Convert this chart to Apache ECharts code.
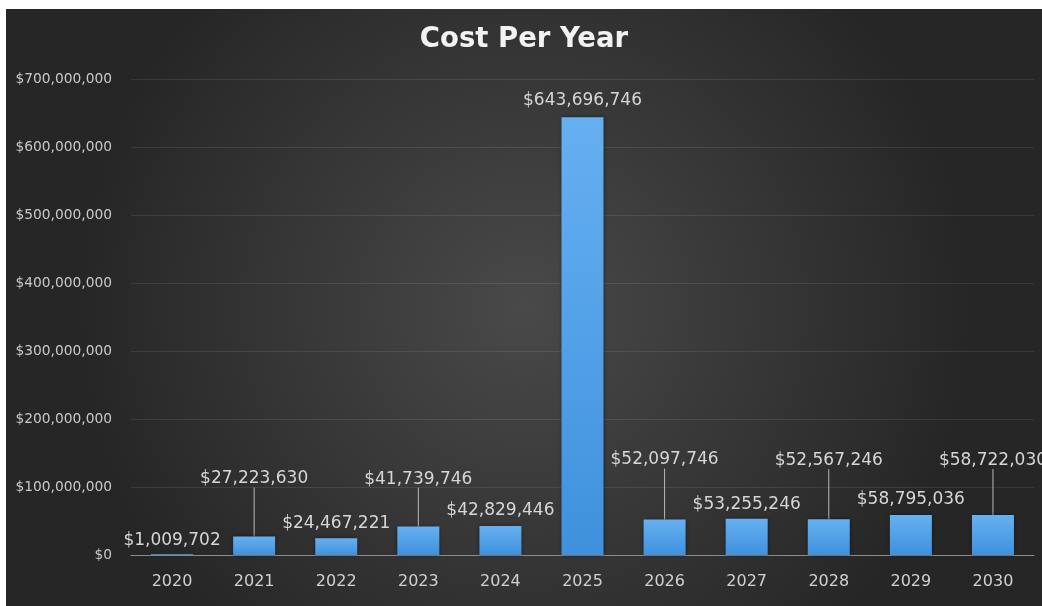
<!DOCTYPE html>
<html>
<head>
<meta charset="utf-8">
<script src="https://cdn.jsdelivr.net/npm/echarts@6/dist/echarts.min.js"></script>
<style>
  html, body { margin: 0; padding: 0; background: #ffffff; width: 1042px; height: 606px; overflow: hidden; }
  #chart { position: absolute; left: 6px; top: 9px; width: 1036px; height: 597px; }
</style>
</head>
<body>
<div id="chart"></div>
<script>
const title = 'Cost Per Year';
const years = ['2020','2021','2022','2023','2024','2025','2026','2027','2028','2029','2030'];
const costs = [1009702, 27223630, 24467221, 41739746, 42829446, 643696746, 52097746, 53255246, 52567246, 58795036, 58722030];
const yTicks = [0, 100000000, 200000000, 300000000, 400000000, 500000000, 600000000, 700000000];

// vertical displacement of each data label (px); leader lines drawn where lifted
const labelLift = [0, -44, -1, -34, -2, -3, -46, -1, -45, -2, -41];

const fmt = v => '$' + Math.round(v).toLocaleString('en-US');

const barData = costs.map((v, i) => ({
  value: v,
  labelLine: { show: Math.abs(labelLift[i]) > 10 }
}));

const chart = echarts.init(document.getElementById('chart'));
chart.setOption({
  backgroundColor: new echarts.graphic.RadialGradient(0.5, 0.5, 0.75, [
    { offset: 0, color: '#494949' },
    { offset: 1, color: '#262626' }
  ]),
  animation: false,
  title: {
    text: title,
    left: 'center',
    top: 12,
    padding: [5, 5, 5, 13],
    textStyle: { color: '#f2f2f2', fontSize: 27.5, fontWeight: 'bold', fontFamily: 'DejaVu Sans' }
  },
  grid: { left: 125, right: 8, top: 70, bottom: 51 },
  xAxis: {
    type: 'category',
    data: years,
    axisLine: { lineStyle: { color: '#8c8c8c', width: 1 } },
    axisTick: { show: false },
    axisLabel: { color: '#d0d0d0', fontSize: 16, fontFamily: 'DejaVu Sans', margin: 19 }
  },
  yAxis: {
    type: 'value',
    min: yTicks[0],
    max: yTicks[yTicks.length - 1],
    interval: yTicks[1] - yTicks[0],
    axisLine: { show: false },
    axisTick: { show: false },
    splitLine: { lineStyle: { color: 'rgba(255,255,255,0.09)', width: 1 } },
    axisLabel: { color: '#c8c8c8', fontSize: 13.8, fontFamily: 'DejaVu Sans', margin: 19, formatter: fmt }
  },
  series: [{
    type: 'bar',
    data: barData,
    barWidth: 42,
    itemStyle: {
      color: new echarts.graphic.LinearGradient(0, 0, 0, 1, [
        { offset: 0, color: '#66b0f1' },
        { offset: 1, color: '#3f91dd' }
      ]),
      shadowBlur: 4,
      shadowColor: 'rgba(0,0,0,0.45)'
    },
    label: {
      show: true,
      position: 'top',
      distance: 5,
      color: '#d6d6d6',
      fontSize: 17,
      fontFamily: 'DejaVu Sans',
      formatter: p => fmt(p.value)
    },
    labelLine: { show: true, lineStyle: { color: '#b8b8b8', width: 1 } },
    labelLayout: p => ({ dy: labelLift[p.dataIndex] })
  }]
});
</script>
</body>
</html>
